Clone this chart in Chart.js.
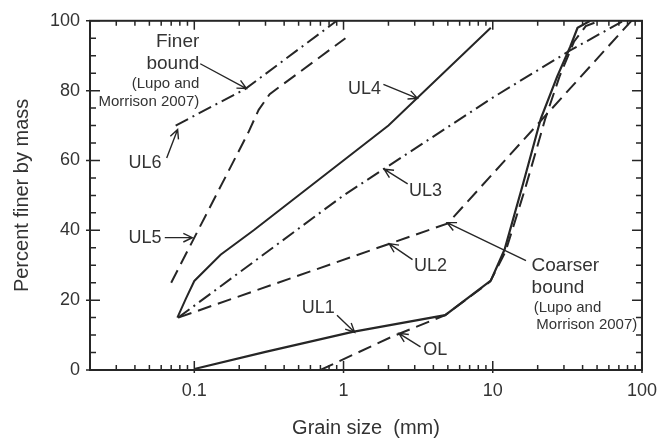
<!DOCTYPE html>
<html>
<head>
<meta charset="utf-8">
<script src="https://cdn.jsdelivr.net/npm/chart.js@4.4.1/dist/chart.umd.min.js"></script>
<style>
html,body{margin:0;padding:0;background:#fff;}
canvas{display:block;}
</style>
</head>
<body>
<canvas id="c" width="667" height="440"></canvas>
<script>
// ---- data (grain size mm, percent finer) ----
const ul1Grain = [0.1, 0.3, 1.15, 4.8, 9.7, 12, 16, 21, 27, 33, 37, 45];
const ul1Pass  = [0.3, 5.2, 10.9, 15.7, 25.6, 34.5, 53.5, 72, 84, 92.5, 98, 100];
const olGrain  = [0.7, 2.1, 4.8, 9.6, 12.2, 16.5, 22.5, 28, 35, 42, 52];
const olPass   = [0, 9.5, 15.7, 25.3, 34, 52, 72, 84, 94, 98.5, 100];
const ul2Grain = [0.078, 5, 85];
const ul2Pass  = [15, 42, 100];
const ul3Grain = [0.078, 1, 10, 33, 75];
const ul3Pass  = [15, 50, 78, 91.5, 100];
const ul4Grain = [0.077, 0.088, 0.1, 0.15, 0.25, 2, 9.7];
const ul4Pass  = [15, 20.5, 25.5, 33, 40, 70, 98];
const ul5Grain = [0.07, 0.23, 0.27, 0.32, 1.03];
const ul5Pass  = [25, 68, 74.5, 79, 95];
const ul6Grain = [0.075, 0.22, 0.9];
const ul6Pass  = [70, 80.5, 100];

const xTickLabels = [0.1, 1, 10, 100];
const yTickLabels = [0, 20, 40, 60, 80, 100];

const pts = (g, p) => g.map((v, i) => ({x: v, y: p[i]}));

const INK = '#262626';
const TXT = '#333333';
const FONT = "'Liberation Sans', Arial, sans-serif";
const DASH = [14, 7];
const DASHDOT = [14, 5, 2, 5];

function ds(label, g, p, dash, w) {
  return {label, data: pts(g, p), borderColor: INK, borderWidth: w || 2,
          borderDash: dash, pointRadius: 0, fill: false, tension: 0};
}

// annotation text and arrows (positions in data units)
const labels = [
  {t: 'Finer', x: 0.108, y: 94.0, s: 19, a: 'right'},
  {t: 'bound', x: 0.108, y: 87.7, s: 19, a: 'right'},
  {t: '(Lupo and', x: 0.108, y: 81.8, s: 15, a: 'right'},
  {t: 'Morrison 2007)', x: 0.108, y: 76.9, s: 15, a: 'right'},
  {t: 'Coarser', x: 18.2, y: 29.9, s: 19, a: 'left'},
  {t: 'bound', x: 18.2, y: 23.6, s: 19, a: 'left'},
  {t: '(Lupo and', x: 18.8, y: 17.9, s: 15, a: 'left'},
  {t: 'Morrison 2007)', x: 19.6, y: 12.8, s: 15, a: 'left'},
  {t: 'UL6', x: 0.0468, y: 59.3, s: 18, a: 'center'},
  {t: 'UL5', x: 0.0468, y: 37.9, s: 18, a: 'center'},
  {t: 'UL4', x: 1.38, y: 80.6, s: 18, a: 'center'},
  {t: 'UL3', x: 3.54, y: 51.3, s: 18, a: 'center'},
  {t: 'UL2', x: 3.82, y: 29.9, s: 18, a: 'center'},
  {t: 'UL1', x: 0.678, y: 17.7, s: 18, a: 'center'},
  {t: 'OL', x: 4.12, y: 5.7, s: 18, a: 'center'}
];
const arrows = [
  [0.1096, 87.7, 0.2235, 80.6],
  [0.0653, 60.7, 0.0773, 68.9],
  [0.0634, 37.9, 0.097, 37.9],
  [1.85, 81.8, 3.13, 77.8],
  [2.69, 53.3, 1.87, 57.5],
  [2.9, 31.6, 2.02, 36.2],
  [16.7, 31.3, 4.94, 42.2],
  [0.904, 15.7, 1.187, 10.8],
  [3.28, 6.6, 2.35, 10.5]
];

const framePlugin = {
  id: 'frame',
  afterDatasetsDraw(chart) {
    const ctx = chart.ctx;
    const xs = chart.scales.x, ys = chart.scales.y;
    const a = chart.chartArea;
    const X = v => xs.getPixelForValue(v), Y = v => ys.getPixelForValue(v);
    ctx.save();
    // frame
    ctx.strokeStyle = INK;
    ctx.lineWidth = 2;
    ctx.setLineDash([]);
    ctx.strokeRect(a.left, a.top, a.right - a.left, a.bottom - a.top);
    ctx.lineWidth = 1.5;
    // y ticks left and right
    for (let v = 0; v <= 100; v += 5) {
      const py = Y(v);
      const major = v % 20 === 0;
      const L = major ? 10 : 6;
      ctx.beginPath();
      ctx.moveTo(a.left - (major ? 4 : 0), py); ctx.lineTo(a.left + L, py);
      ctx.moveTo(a.right, py); ctx.lineTo(a.right - L, py);
      ctx.stroke();
    }
    // x ticks bottom and top
    for (let d = 0.01; d <= 100; d *= 10) {
      for (let m = 1; m <= 9; m++) {
        const v = d * m;
        if (v < 0.02 - 1e-9 || v > 100 + 1e-9) continue;
        const px = X(v);
        const major = m === 1;
        const L = major ? 9 : 5;
        ctx.beginPath();
        ctx.moveTo(px, a.bottom + (major ? 3 : 0)); ctx.lineTo(px, a.bottom - L);
        ctx.moveTo(px, a.top); ctx.lineTo(px, a.top + L);
        ctx.stroke();
      }
    }
    // arrows
    ctx.lineWidth = 1.4;
    for (const [x0, y0, x1, y1] of arrows) {
      const p0x = X(x0), p0y = Y(y0), p1x = X(x1), p1y = Y(y1);
      const ang = Math.atan2(p1y - p0y, p1x - p0x);
      const h = 10, sp = 0.45;
      ctx.beginPath();
      ctx.moveTo(p0x, p0y); ctx.lineTo(p1x, p1y);
      ctx.moveTo(p1x - h * Math.cos(ang - sp), p1y - h * Math.sin(ang - sp));
      ctx.lineTo(p1x, p1y);
      ctx.lineTo(p1x - h * Math.cos(ang + sp), p1y - h * Math.sin(ang + sp));
      ctx.stroke();
    }
    // text
    ctx.fillStyle = TXT;
    ctx.textBaseline = 'middle';
    for (const l of labels) {
      ctx.font = l.s + 'px ' + FONT;
      ctx.textAlign = l.a;
      ctx.fillText(l.t, X(l.x), Y(l.y));
    }
    ctx.restore();
  }
};

new Chart(document.getElementById('c'), {
  type: 'line',
  data: {
    datasets: [
      ds('UL1', ul1Grain, ul1Pass, [], 2.2),
      ds('OL', olGrain, olPass, DASH, 2),
      ds('UL2', ul2Grain, ul2Pass, DASH, 2),
      ds('UL3', ul3Grain, ul3Pass, DASHDOT, 2),
      ds('UL4', ul4Grain, ul4Pass, [], 2),
      ds('UL5', ul5Grain, ul5Pass, DASH, 2),
      ds('UL6', ul6Grain, ul6Pass, DASHDOT, 2)
    ]
  },
  options: {
    responsive: false,
    animation: false,
    devicePixelRatio: 1,
    layout: {padding: {top: 19, right: 15, left: 0, bottom: 0}},
    plugins: {legend: {display: false}, tooltip: {enabled: false}},
    scales: {
      x: {
        type: 'logarithmic', position: 'bottom', min: 0.02, max: 100,
        grid: {display: false, drawTicks: false}, border: {display: false},
        afterBuildTicks: s => { s.ticks = xTickLabels.map(v => ({value: v})); },
        afterFit: s => { s.height = 70; },
        ticks: {autoSkip: false, maxRotation: 0, padding: 10, color: TXT,
                font: {family: FONT, size: 18},
                callback: v => String(v)},
        title: {display: true, text: 'Grain size  (mm)', color: TXT,
                font: {family: FONT, size: 20}, padding: {top: 0, bottom: 0}}
      },
      y: {
        min: 0, max: 100,
        grid: {display: false, drawTicks: false}, border: {display: false},
        afterBuildTicks: s => { s.ticks = yTickLabels.map(v => ({value: v})); },
        afterFit: s => { s.width = 90; },
        ticks: {padding: 10, color: TXT, font: {family: FONT, size: 18}},
        title: {display: true, text: 'Percent finer by mass', color: TXT,
                font: {family: FONT, size: 20}, padding: {top: 10, bottom: 10}}
      }
    }
  },
  plugins: [framePlugin]
});
</script>
</body>
</html>
